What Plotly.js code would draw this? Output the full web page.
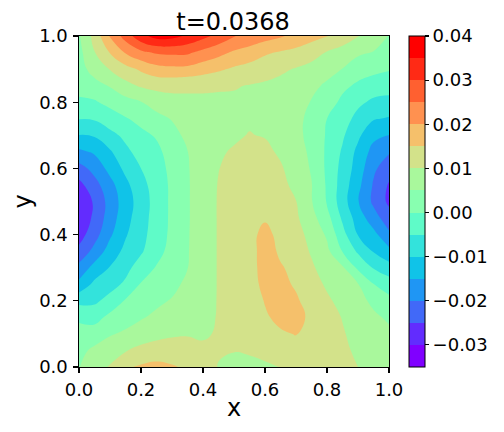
<!DOCTYPE html>
<html>
<head>
<meta charset="utf-8">
<script src="https://cdn.plot.ly/plotly-3.0.1.min.js"></script>
<style>html,body{margin:0;padding:0;background:#fff}#chart{width:504px;height:432px}</style>
</head>
<body>
<div id="chart"></div>
<script>
var xValues = [0,.05,.1,.15,.2,.25,.3,.35,.4,.45,.5,.55,.6,.65,.7,.75,.8,.85,.9,.95,1];
var yValues = [0,.05,.1,.15,.2,.25,.3,.35,.4,.45,.5,.55,.6,.65,.7,.75,.8,.85,.9,.95,1];
var zRows = [
[.0048,.0086,.0103,.0143,.0157,.0165,.0155,.0142,.0123,.0098,.0085,.0091,.0094,.0101,.0112,.0125,.0125,.0113,.01,.0085,.0075],
[.0038,.0059,.0075,.0097,.0112,.012,.0122,.0117,.0108,.0104,.0102,.0104,.0111,.0118,.0128,.0132,.0128,.0108,.0093,.0078,.0068],
[.0017,.0027,.0046,.0058,.0077,.0087,.0094,.0097,.0095,.0104,.0103,.011,.0125,.0143,.0152,.0135,.0125,.0104,.0085,.007,.0058],
[-.0009,-.002,.0014,.003,.0045,.0061,.0075,.0086,.0087,.0103,.0105,.0117,.0143,.0164,.0165,.014,.0118,.0098,.0075,.0057,.0044],
[-.0064,-.0059,-.0034,.0005,.0025,.0039,.0054,.0075,.0081,.0103,.0108,.0121,.0153,.0172,.0157,.0128,.0107,.0087,.0062,.0042,.0014],
[-.0136,-.0088,-.0067,-.0042,.0004,.0021,.0035,.0062,.0078,.0103,.011,.0124,.0167,.0163,.0144,.0117,.0094,.0073,.0052,.0001,-.0025],
[-.0185,-.0132,-.0097,-.0064,-.0028,.0004,.0025,.0049,.0078,.0103,.0112,.0126,.0174,.0155,.0135,.0107,.0078,.0057,-.0009,-.0054,-.0079],
[-.0236,-.0184,-.0128,-.0087,-.0056,-.0018,.0018,.0047,.0078,.0103,.0113,.0127,.0175,.0141,.0125,.0095,.0062,-.0002,-.0058,-.0104,-.0137],
[-.0272,-.022,-.0158,-.0105,-.0065,-.0027,.0012,.0046,.0078,.0103,.0115,.0127,.0172,.0128,.0117,.0085,.0043,-.0033,-.0102,-.0135,-.019],
[-.0293,-.0238,-.0175,-.0118,-.0071,-.0029,.001,.0045,.0078,.0103,.0117,.0126,.0142,.0124,.0108,.0067,.0018,-.0058,-.0123,-.0178,-.0228],
[-.029,-.0243,-.018,-.0125,-.0076,-.003,.001,.0045,.0078,.0103,.0118,.0125,.0125,.0118,.0101,.0053,-.0004,-.0077,-.0147,-.021,-.026],
[-.0265,-.0218,-.0167,-.0113,-.0066,-.0028,.001,.0045,.0078,.0102,.0116,.0123,.0123,.0113,.0088,.0052,-.0006,-.0073,-.0136,-.0205,-.0255],
[-.022,-.0183,-.0134,-.0088,-.005,-.0022,.0014,.0046,.0079,.0099,.0112,.0118,.0118,.0106,.0076,.0046,-.0009,-.0066,-.0122,-.0191,-.0228],
[-.016,-.0143,-.0106,-.0062,-.003,-.0012,.0021,.0049,.008,.0095,.0104,.0112,.0112,.0092,.0065,.0043,-.0009,-.0056,-.0113,-.0167,-.0195],
[-.0101,-.0095,-.0065,-.0038,-.0012,.0005,.0033,.0062,.0083,.0092,.0094,.0102,.0097,.0078,.0058,.0041,-.0006,-.0043,-.009,-.0138,-.0151],
[-.0048,-.0045,-.0023,-.0004,.0014,.0035,.0053,.0075,.0088,.0092,.0091,.0094,.0087,.0076,.0058,.0042,0,-.0027,-.0066,-.0096,-.0105],
[-.0006,-.0005,.0013,.0032,.0048,.0071,.0085,.009,.0091,.0092,.0093,.0092,.0085,.0077,.0062,.0048,.0025,-.0012,-.0039,-.006,-.0065],
[.0012,.0028,.0054,.0085,.0106,.0114,.0113,.0109,.0108,.0105,.0103,.0098,.0093,.0087,.008,.0062,.0042,.0012,-.0009,-.0023,-.0029],
[.0025,.0075,.0102,.0132,.0158,.0181,.0188,.0186,.0172,.0158,.0143,.0132,.012,.0108,.0097,.0086,.0068,.0049,.0024,.0013,.0004],
[.0035,.0098,.0152,.0204,.0238,.0256,.026,.0258,.0235,.0215,.0193,.0178,.0157,.0145,.0135,.0118,.0097,.0083,.0058,.0048,.0028],
[.0045,.0116,.0205,.0272,.0335,.0368,.0366,.0342,.0315,.0285,.0252,.0235,.022,.0205,.0187,.0168,.0152,.0125,.0102,.0075,.0048]
];
var bandColors = ['#8000ff','#622cfe','#4169f8','#1f96f4','#10c3e8','#33e3dc','#5ffbc8','#88ffb0','#a9f89c','#d3e28a','#f5c06b','#ff9150','#ff6030','#ff2a15','#ff0000'];
var levelStart = -0.035, levelEnd = 0.04, levelStep = 0.005;
var axisTicks = [0,0.2,0.4,0.6,0.8,1];
var barTicks = [-0.03,-0.02,-0.01,0,0.01,0.02,0.03,0.04];
var barTickText = ['−0.03','−0.02','−0.01','0.00','0.01','0.02','0.03','0.04'];
var titleText = 't=0.0368';

// fill colours: contour bands read the scale at (i+1)/16
var fillScale = [[0, bandColors[0]]];
bandColors.forEach(function(c, i){ fillScale.push([(i + 1) / 16, c]); });
fillScale.push([1, bandColors[bandColors.length - 1]]);
// colour bar: hard steps over exactly levelStart..levelEnd
var barScale = [];
bandColors.forEach(function(c, i){
  barScale.push([i / bandColors.length, c]);
  barScale.push([(i + 1) / bandColors.length, c]);
});

var font = 'DejaVu Sans, sans-serif';
function axis(name){
  return {
    title: {text: name, font: {family: font, size: 24, color: '#000'}, standoff: 0},
    range: [0, 1], tickmode: 'array', tickvals: axisTicks, ticktext: axisTicks.map(function(v){return v.toFixed(1);}),
    ticks: 'outside', ticklen: 4.5, tickwidth: 1.1, tickcolor: '#000', ticklabelstandoff: 2,
    showline: true, linecolor: '#000', linewidth: 1.1, mirror: true,
    showgrid: false, zeroline: false,
    tickfont: {family: font, size: 18, color: '#000'}
  };
}
Plotly.newPlot('chart', [{
  type: 'contour', x: xValues, y: yValues, z: zRows,
  autocontour: false, showscale: false,
  contours: {start: levelStart, end: levelEnd, size: levelStep, coloring: 'fill', showlines: false},
  line: {width: 0, smoothing: 1.3},
  colorscale: fillScale
}, {
  type: 'scatter', mode: 'markers', x: [null], y: [null], showlegend: false, hoverinfo: 'skip',
  marker: {
    color: [levelStart], cmin: levelStart, cmax: levelEnd, colorscale: barScale, showscale: true,
    colorbar: {
      thickness: 16, thicknessmode: 'pixels', len: 1, lenmode: 'fraction',
      x: 1.0645, xanchor: 'left', xpad: 0, y: 0.5, yanchor: 'middle', ypad: 0,
      outlinewidth: 1, outlinecolor: '#000', borderwidth: 0,
      tickmode: 'array', tickvals: barTicks, ticktext: barTickText,
      ticks: 'outside', ticklen: 4, tickwidth: 1.1, tickcolor: '#000',
      tickfont: {family: font, size: 18, color: '#000'}
    }
  }
}], {
  width: 504, height: 432,
  margin: {l: 79, r: 115, t: 36, b: 65, pad: 0},
  paper_bgcolor: '#fff', plot_bgcolor: '#fff',
  title: {text: titleText, font: {family: font, size: 24, color: '#000'}, x: 233/504, xanchor: 'center', y: 1 - 21.5/432, yanchor: 'middle'},
  xaxis: axis('x'), yaxis: axis('y')
}, {displayModeBar: false, staticPlot: true});
</script>
</body>
</html>
